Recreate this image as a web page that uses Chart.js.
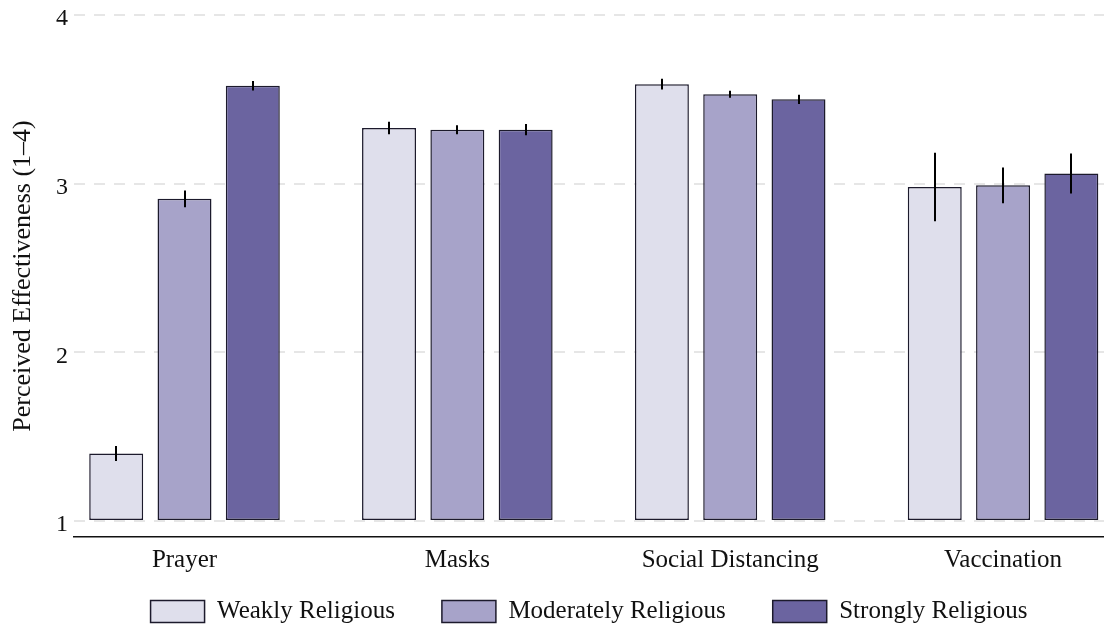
<!DOCTYPE html>
<html>
<head>
<meta charset="utf-8">
<script src="https://cdn.jsdelivr.net/npm/chart.js@4.4.1/dist/chart.umd.min.js"></script>
<style>
  html, body { margin: 0; padding: 0; background: #ffffff; }
  #wrap { width: 1104px; height: 630px; position: relative; }
</style>
</head>
<body>
<div id="wrap"><canvas id="chart" width="1104" height="630"></canvas></div>
<script>
// Interventions and mean perceived effectiveness by religiosity group
const categories = ['Prayer', 'Masks', 'Social Distancing', 'Vaccination'];
const groups = ['Weakly Religious', 'Moderately Religious', 'Strongly Religious'];

const weakMeans     = [1.40, 3.33, 3.59, 2.98];
const moderateMeans = [2.91, 3.32, 3.53, 2.99];
const strongMeans   = [3.58, 3.32, 3.50, 3.06];

// half-widths of the error bars
const weakErr     = [0.044, 0.037, 0.032, 0.203];
const moderateErr = [0.050, 0.027, 0.021, 0.106];
const strongErr   = [0.028, 0.033, 0.027, 0.119];

const yTicks = [1, 2, 3, 4];

const fills = ['#dfdfec', '#a7a3c9', '#6b64a0'];
const edge = '#1c1a2c';
const FONT = '"Liberation Serif", "Times New Roman", serif';

const series = [
  { means: weakMeans, err: weakErr },
  { means: moderateMeans, err: moderateErr },
  { means: strongMeans, err: strongErr }
];

const datasets = series.map((s, k) => ({
  label: groups[k],
  data: s.means.map((v, i) => ({ x: i, y: v })),
  errors: s.err,
  base: 1,
  backgroundColor: fills[k],
  borderColor: edge,
  borderWidth: 1.5,
  borderSkipped: false,
  categoryPercentage: 0.751,
  barPercentage: 0.79
}));

// vertical error bars drawn through the chart's own scales
const errorBars = {
  id: 'errorBars',
  afterDatasetsDraw(chart) {
    const ctx = chart.ctx;
    const yScale = chart.scales.y;
    ctx.save();
    ctx.strokeStyle = '#000000';
    ctx.lineWidth = 2;
    ctx.lineCap = 'butt';
    chart.data.datasets.forEach((ds, di) => {
      const meta = chart.getDatasetMeta(di);
      meta.data.forEach((bar, j) => {
        const v = ds.data[j].y;
        const e = ds.errors[j];
        const yTop = yScale.getPixelForValue(v + e);
        const yBot = yScale.getPixelForValue(v - e);
        const x = Math.round(bar.x);
        ctx.beginPath();
        ctx.moveTo(x, yTop);
        ctx.lineTo(x, yBot);
        ctx.stroke();
      });
    });
    ctx.restore();
  }
};

// compact legend: wide gaps between items but a short legend band,
// tucked just under the category labels
const LEGEND_BAND = 53;
const LEGEND_GAP = 15;
const legendBand = {
  id: 'legendBand',
  beforeLayout(chart) {
    const lg = chart.legend;
    if (lg && !lg._bandPatched) {
      const fit = lg.fit.bind(lg);
      lg.fit = function () {
        fit();
        this._fullHeight = this.height;
        this.height = LEGEND_BAND;
      };
      lg._bandPatched = true;
    }
  },
  afterLayout(chart) {
    const lg = chart.legend;
    if (lg) {
      lg.top = chart.chartArea.bottom + LEGEND_GAP;
      lg.height = lg._fullHeight || lg.height;
      lg.bottom = lg.top + lg.height;
    }
  }
};

Chart.defaults.font.family = FONT;
Chart.defaults.color = '#111111';

new Chart(document.getElementById('chart'), {
  type: 'bar',
  data: { datasets },
  plugins: [errorBars, legendBand],
  options: {
    responsive: false,
    animation: false,
    layout: { padding: { top: 15, right: 0, left: 0, bottom: 0 } },
    plugins: {
      legend: {
        position: 'bottom',
        fullSize: false,
        labels: {
          boxWidth: 54,
          boxHeight: 22,
          padding: 47,
          font: { size: 25, family: FONT },
          color: '#111111'
        }
      },
      tooltip: { enabled: false }
    },
    scales: {
      x: {
        type: 'linear',
        min: -0.405,
        max: 3.370,
        offset: false,
        grid: { display: false, drawTicks: false },
        border: { display: true, color: '#111111', width: 1.5 },
        afterBuildTicks(scale) {
          scale.ticks = categories.map((c, i) => ({ value: i }));
        },
        ticks: {
          padding: 8,
          font: { size: 25, family: FONT },
          color: '#111111',
          maxRotation: 0,
          autoSkip: false,
          callback: (v) => categories[v]
        },
        afterFit(scale) {
          scale.height = 40;
          scale.paddingLeft = 0;
          scale.paddingRight = 0;
        }
      },
      y: {
        type: 'linear',
        min: 0.905,
        max: 4,
        grid: {
          display: true,
          drawTicks: false,
          color: '#e6e6e6',
          lineWidth: 2
        },
        border: { display: false, dash: [11, 9] },
        afterBuildTicks(scale) {
          scale.ticks = yTicks.map(v => ({ value: v }));
        },
        ticks: {
          padding: 6,
          labelOffset: 4,
          font: { size: 24, family: FONT },
          color: '#111111',
          callback: (v) => String(v)
        },
        title: {
          display: true,
          text: 'Perceived Effectiveness (1–4)',
          font: { size: 26, family: FONT },
          color: '#111111',
          padding: { top: 8, bottom: 0 }
        },
        afterFit(scale) {
          scale.width = 74;
          scale.paddingTop = 0;
          scale.paddingBottom = 0;
        }
      }
    }
  }
});
</script>
</body>
</html>
